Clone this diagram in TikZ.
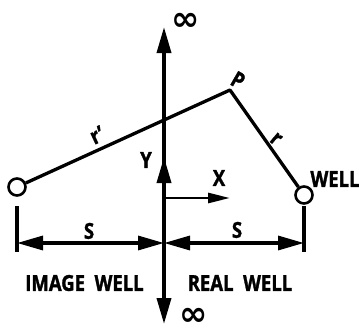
\documentclass[tikz,border=0pt]{standalone}
\usepackage{fontspec}
\setmainfont{Open Sans}[FakeStretch=0.84, BoldFeatures={FakeBold=1.4}]
\newfontfamily\symfont{DejaVu Sans}
\usetikzlibrary{arrows.meta,positioning}
\tikzset{
	big tip/.tip = {Triangle[length=26pt,width=14pt]},
	small tip/.tip = {Triangle[length=22pt,width=10pt]},
	lbl/.style = {font=\bfseries\fontsize{22}{24}\selectfont, inner sep=0pt}, % all the letters of the sketch
	inf/.style = {font=\symfont\bfseries\fontsize{34}{34}\selectfont, inner sep=0pt}
}

\begin{document}
\begin{tikzpicture}[x=1pt,y=1pt]
            \useasboundingbox (0,0) rectangle (359,333);
            \tikzset{well/.style = {circle, draw, fill=white, line width=2.6pt, minimum size=17pt, inner sep=0pt}}
            \tikzset{my edge/.style = {-, line width=3.3pt}}
            \tikzset{dim/.style = {big tip-big tip, line width=3.3pt}}
            \coordinate (O) at (164,90);
            \coordinate (top) at (164,306);
            \coordinate (bot) at (164,9);
            \coordinate (Ytip) at (164,176);
            \coordinate (Xstart) at (164,135);
            \coordinate (Xtip) at (230,135);
            \coordinate (P) at (230,243);
            \node[well] (L) at (17,146) {};
            \node[well] (R) at (304,138) {};
            \coordinate (Lt) at (17,127);
            \coordinate (Lb) at (17,81);
            \coordinate (Rt) at (304,127);
            \coordinate (Rb) at (304,81);
            \coordinate (Ls) at (17,90);
            \coordinate (Rs) at (304,90);
            \draw[my edge, big tip-big tip, line width=3.6pt] (bot) -- (top);
            \draw[my edge, -big tip, line width=3.6pt] (O) -- (Ytip);
            \draw[my edge, -small tip, line width=2.8pt] (Xstart) -- (Xtip);
            \draw[my edge, line join=round] (L) -- (P) -- (R);
            \draw[my edge] (Lt) -- (Lb);
            \draw[my edge] (Rt) -- (Rb);
            \draw[dim] (Ls) -- (O);
            \draw[dim] (O) -- (Rs);
            \node[inf, anchor=base] (inftop) at (186,302) {∞};
            \node[inf, anchor=base] (infbot) at (194,8) {∞};
            \node[lbl, rotate=-30] (Plbl) at (238,253) {P};
            \node[lbl, rotate=25] (rr) at (97,198) {r’};
            \node[lbl, rotate=-40] (r) at (276,194) {r};
            \node[lbl] (Y) at (146,173) {Y};
            \node[lbl] (X) at (219,155) {X};
            \node[lbl] (wellR) at (335,154) {WELL};
            \node[lbl] (S1) at (89,102) {S};
            \node[lbl] (S2) at (237,103) {S};
            \node[lbl] (img) at (84.5,50) {IMAGE\ \ WELL};
            \node[lbl] (real) at (240,50) {REAL\ \ WELL};
        \end{tikzpicture}
\end{document}
